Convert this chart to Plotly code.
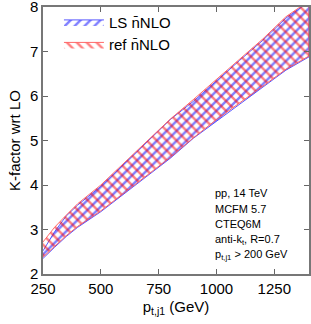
import plotly.graph_objects as go

pt = [250, 300, 350, 400, 500, 600, 700, 800, 900, 1000, 1100, 1200, 1300, 1400]
ls_upper = [2.52, 2.95, 3.30, 3.55, 3.97, 4.47, 4.97, 5.47, 5.88, 6.35, 6.80, 7.25, 7.75, 8.12]
ls_lower = [2.35, 2.60, 2.84, 3.05, 3.40, 3.80, 4.20, 4.60, 5.05, 5.45, 5.83, 6.20, 6.58, 6.88]
ref_upper = [2.72, 3.05, 3.32, 3.58, 4.00, 4.50, 5.00, 5.48, 5.92, 6.38, 6.82, 7.28, 7.78, 8.14]
ref_lower = [2.38, 2.62, 2.86, 3.07, 3.42, 3.82, 4.22, 4.62, 5.06, 5.47, 5.85, 6.22, 6.60, 6.90]

info_lines = ["pp, 14 TeV", "MCFM 5.7", "CTEQ6M", "anti-k<sub>t</sub>, R=0.7",
              "p<sub>t,j1</sub> > 200 GeV"]

FONT = "Liberation Sans, Arial, sans-serif"

fig = go.Figure()
fig.add_trace(go.Scatter(
    x=pt + pt[::-1], y=ls_upper + ls_lower[::-1],
    fill="toself", mode="lines",
    line=dict(color="rgba(70,70,255,0.9)", width=1),
    fillcolor="rgba(0,0,0,0)",
    fillpattern=dict(shape="/", fgcolor="#0000ff", bgcolor="rgba(0,0,0,0)",
                     size=7, solidity=0.35),
    name="LS n\u0304NLO",
))
fig.add_trace(go.Scatter(
    x=pt + pt[::-1], y=ref_upper + ref_lower[::-1],
    fill="toself", mode="lines",
    line=dict(color="rgba(255,90,90,0.9)", width=1),
    fillcolor="rgba(0,0,0,0)",
    fillpattern=dict(shape="\\", fgcolor="#ff0000", bgcolor="rgba(0,0,0,0)",
                     size=7, solidity=0.35),
    name="ref n\u0304NLO",
))

line_y = [193, 209, 224, 240, 255]
for txt, yy in zip(info_lines, line_y):
    fig.add_annotation(
        xref="paper", yref="paper",
        x=(213 - 43) / 266, y=(274 - yy) / 267,
        xanchor="left", yanchor="middle",
        text=txt, showarrow=False,
        font=dict(family=FONT, size=11, color="black"),
    )

axis_common = dict(
    showgrid=False, zeroline=False, ticks="inside", ticklen=5,
    tickcolor="#666", showline=True, linecolor="#777", linewidth=1.5,
    mirror="allticks", tickfont=dict(family=FONT, size=15, color="black"),
    automargin=False, ticklabeloverflow="allow",
)

fig.update_layout(
    width=311, height=324,
    margin=dict(l=43, r=2, t=7, b=50),
    plot_bgcolor="white", paper_bgcolor="white",
    showlegend=True,
    legend=dict(x=0.06, y=1.005, xanchor="left", yanchor="top",
                bgcolor="rgba(0,0,0,0)",
                font=dict(family=FONT, size=15, color="black"),
                itemwidth=40, tracegroupgap=4),
    xaxis=dict(range=[250, 1400], tickvals=[250, 500, 750, 1000, 1250],
               title=dict(text="p<sub>t,j1</sub> (GeV)",
                          font=dict(family=FONT, size=15, color="black"),
                          standoff=6),
               **axis_common),
    yaxis=dict(range=[2, 8], dtick=1,
               title=dict(text="K-factor wrt LO",
                          font=dict(family=FONT, size=15, color="black"),
                          standoff=6),
               **axis_common),
)

fig.write_html("out.html",
               config={"displayModeBar": False},
               post_script="document.body.style.margin='0';document.body.style.overflow='hidden';")
